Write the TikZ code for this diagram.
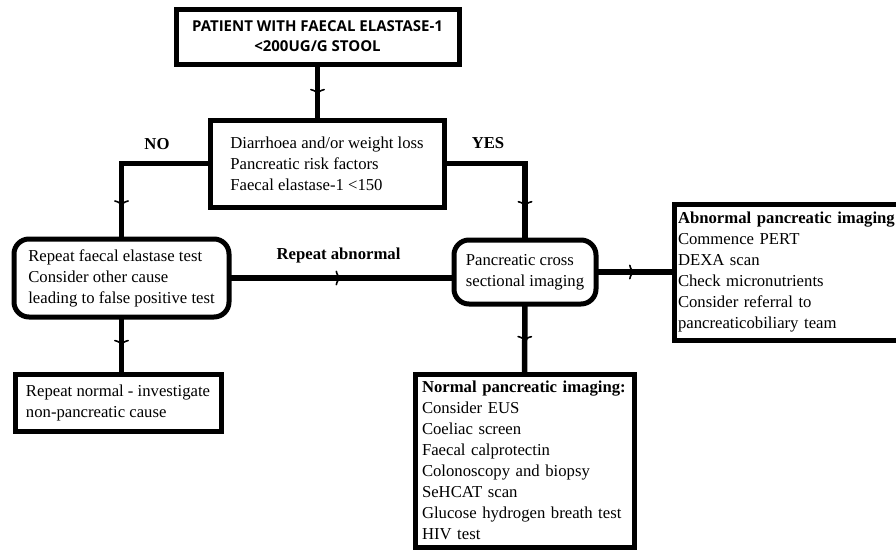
\documentclass[tikz,border=0pt]{standalone}
\usepackage{fontspec}
\setmainfont{Liberation Serif}
\newfontfamily\headfont{Open Sans}
\usetikzlibrary{positioning,arrows.meta,decorations.markings}
\tikzset{flow box/.style={draw,line width=5pt,inner sep=0pt,outer sep=0pt,align=left,font=\fontsize{16.7}{21}\selectfont},
    round box/.style={flow box,rounded corners=15pt},
    flow line/.style={line width=5.5pt},
    flow mark/.style={postaction={decorate},decoration={markings,mark=at position #1 with {\arrow{Computer Modern Rightarrow[length=6pt,width=15pt,line width=1.6pt]}}}},
    flow label/.style={font=\fontsize{16.7}{21}\selectfont\bfseries}}

\begin{document}
\begin{tikzpicture}[x=1pt,y=-1pt]
            \useasboundingbox (0,0) rectangle (896,549);
            \clip (0,0) rectangle (896,549);
            % boxes
            \node[flow box,align=center,minimum width=283pt,minimum height=55pt,
                font=\headfont\bfseries\fontsize{15}{20}\selectfont] (patient) at (317.5,36.5)
                {PATIENT WITH FAECAL ELASTASE-1\\<200UG/G STOOL};
            \node[flow box,minimum width=234pt,minimum height=87pt] (criteria) at (327,163.5)
                {Diarrhoea and/or weight loss\\Pancreatic risk factors\\Faecal elastase-1 <150};
            \node[round box,minimum width=215pt,minimum height=78pt] (retest) at (121.5,278)
                {Repeat faecal elastase test\\Consider other cause\\leading to false positive test};
            \node[round box,minimum width=142pt,minimum height=64pt] (imaging) at (525,272)
                {Pancreatic cross\\sectional imaging};
            \node[flow box,anchor=west,text width=223pt,inner xsep=4pt,minimum height=136pt] (abnormal) at (674,272)
                {\textbf{Abnormal pancreatic imaging}\\Commence PERT\\DEXA scan\\Check micronutrients\\Consider referral to\\pancreaticobiliary team};
            \node[flow box,text width=205pt,inner xsep=7pt,minimum height=173pt] (normal) at (524.5,460.5)
                {\textbf{Normal pancreatic imaging:}\\Consider EUS\\Coeliac screen\\Faecal calprotectin\\Colonoscopy and biopsy\\SeHCAT scan\\Glucose hydrogen breath test\\HIV test};
            \node[flow box,minimum width=206pt,minimum height=56.5pt] (lookelse) at (118,402.75)
                {Repeat normal - investigate\\non-pancreatic cause};

            % labels
            \node[flow label] (no) at (157,144) {NO};
            \node[flow label] (yes) at (488,143) {YES};
            \node[flow label] (again) at (338.5,255) {Repeat abnormal};

            % connectors
            \draw[flow line,flow mark=0.55] (patient.south) -- (patient.south |- criteria.north);
            \draw[flow line,flow mark=0.8] (criteria.west) -| (retest.north);
            \draw[flow line,flow mark=0.79] (criteria.east) -| (imaging.north);
            \draw[flow line,flow mark=0.5] (retest.east) -- (imaging.west |- retest.east);
            \draw[flow line,flow mark=0.5] (imaging.east) -- (abnormal.west);
            \draw[flow line,flow mark=0.54] (imaging.south) -- (normal.north);
            \draw[flow line,flow mark=0.5] (retest.south) -- (retest.south |- lookelse.north);
        \end{tikzpicture}
\end{document}
